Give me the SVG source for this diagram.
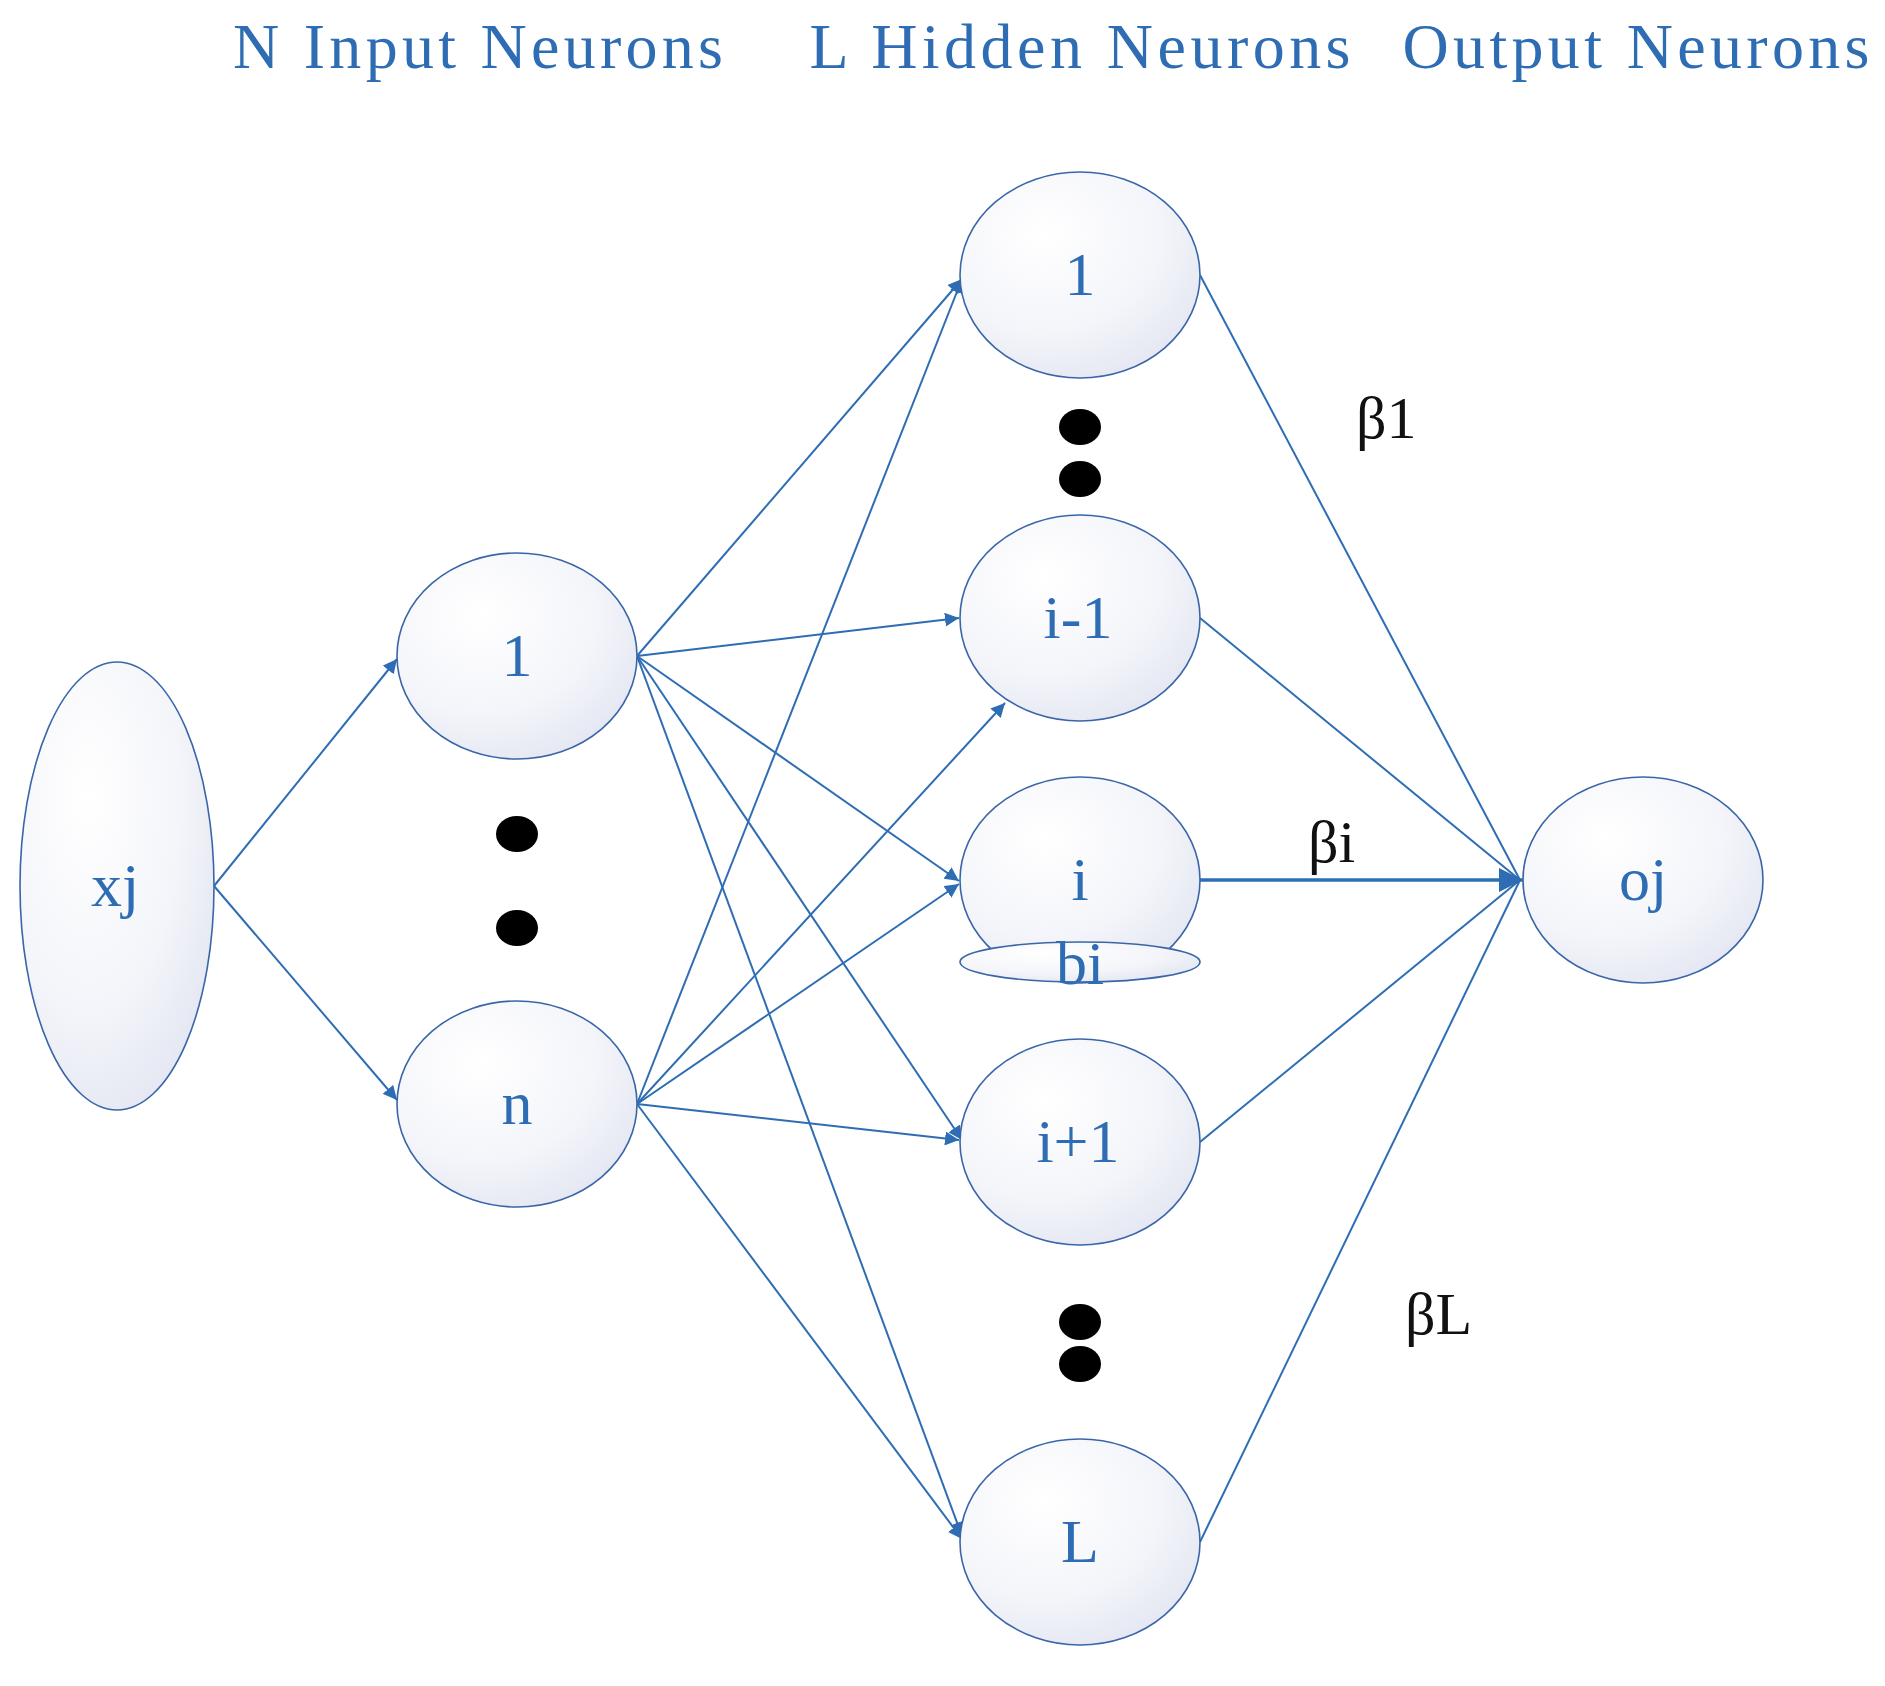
<svg xmlns="http://www.w3.org/2000/svg" width="1885" height="1686" viewBox="0 0 1885 1686">
<style>
.n{fill:url(#g);stroke:#3A66A8;stroke-width:1.6}
.t{font-family:"Liberation Serif",serif;fill:#2E6DB4;text-anchor:middle}
.lb{font-family:"Liberation Serif",serif;fill:#111;font-size:60px}
.c{stroke:#2E6DB4;stroke-width:2;fill:none;marker-end:url(#b)}
.o{stroke:#2E6DB4;stroke-width:2;fill:none}
.d{fill:#000}
</style>
<defs>
<radialGradient id="g" cx="0.35" cy="0.3" r="0.8"><stop offset="0" stop-color="#ffffff"/><stop offset="0.6" stop-color="#F4F5FA"/><stop offset="1" stop-color="#E2E5F1"/></radialGradient>
<marker id="b" viewBox="0 0 10 10" refX="10" refY="5" markerWidth="14" markerHeight="14" orient="auto" markerUnits="userSpaceOnUse"><path d="M0,0L10,5L0,10z" fill="#2E6DB4"/></marker>
<marker id="big" viewBox="0 0 10 10" refX="10" refY="5" markerWidth="24" markerHeight="30" orient="auto" markerUnits="userSpaceOnUse"><path d="M0,0L10,5L0,10z" fill="#2E6DB4"/></marker>
</defs>
<g id="titles" class="t" font-size="64">
<text x="478" y="68" textLength="490" lengthAdjust="spacing">N Input Neurons</text>
<text x="1080" y="68" textLength="541" lengthAdjust="spacing">L Hidden Neurons</text>
<text x="1636" y="68" textLength="467" lengthAdjust="spacing">Output Neurons</text>
</g>
<g id="connectors">
<line class="c" x1="214" y1="886" x2="397" y2="659"/>
<line class="c" x1="214" y1="886" x2="397" y2="1100"/>
<line class="c" x1="637" y1="656" x2="962" y2="279"/>
<line class="c" x1="637" y1="656" x2="959" y2="618"/>
<line class="c" x1="637" y1="656" x2="959" y2="881"/>
<line class="c" x1="637" y1="656" x2="962" y2="1140"/>
<line class="c" x1="637" y1="656" x2="962" y2="1536"/>
<line class="c" x1="637" y1="1104" x2="962" y2="279"/>
<line class="c" x1="637" y1="1104" x2="1005" y2="703"/>
<line class="c" x1="637" y1="1104" x2="959" y2="884"/>
<line class="c" x1="637" y1="1104" x2="959" y2="1140"/>
<line class="c" x1="637" y1="1104" x2="962" y2="1539"/>
<line class="o" x1="1200" y1="275" x2="1520" y2="880"/>
<line class="o" x1="1200" y1="618" x2="1520" y2="880"/>
<line class="c" x1="1200" y1="880" x2="1523" y2="880" style="stroke-width:3.5;marker-end:url(#big)"/>
<line class="o" x1="1200" y1="1142" x2="1520" y2="880"/>
<line class="o" x1="1200" y1="1542" x2="1520" y2="880"/>
</g>
<g id="xj"><ellipse class="n" cx="117" cy="886" rx="97" ry="224"/><text class="t" x="115" y="906" font-size="62">xj</text></g>
<g id="in1"><ellipse class="n" cx="517" cy="656" rx="120" ry="103"/><text class="t" x="517" y="676" font-size="62">1</text></g>
<g id="inn"><ellipse class="n" cx="517" cy="1104" rx="120" ry="103"/><text class="t" x="517" y="1124" font-size="62">n</text></g>
<g id="dots1"><ellipse class="d" cx="517" cy="834" rx="21" ry="18"/><ellipse class="d" cx="517" cy="928" rx="21" ry="18"/></g>
<g id="h1"><ellipse class="n" cx="1080" cy="275" rx="120" ry="103"/><text class="t" x="1080" y="295" font-size="62">1</text></g>
<g id="hdots1"><ellipse class="d" cx="1080" cy="427" rx="21" ry="18"/><ellipse class="d" cx="1080" cy="479" rx="21" ry="18"/></g>
<g id="him1"><ellipse class="n" cx="1080" cy="618" rx="120" ry="103"/><text class="t" x="1078" y="638" font-size="62">i-1</text></g>
<g id="hi"><ellipse class="n" cx="1080" cy="880" rx="120" ry="103"/><text class="t" x="1080" y="900" font-size="62">i</text></g>
<g id="bi"><ellipse class="n" cx="1080" cy="962" rx="120" ry="20"/><text class="t" x="1080" y="984" font-size="62">bi</text></g>
<g id="hip1"><ellipse class="n" cx="1080" cy="1142" rx="120" ry="103"/><text class="t" x="1078" y="1162" font-size="62">i+1</text></g>
<g id="hdots2"><ellipse class="d" cx="1080" cy="1322" rx="21" ry="18"/><ellipse class="d" cx="1080" cy="1364" rx="21" ry="18"/></g>
<g id="hL"><ellipse class="n" cx="1080" cy="1542" rx="120" ry="103"/><text class="t" x="1080" y="1562" font-size="62">L</text></g>
<g id="oj"><ellipse class="n" cx="1643" cy="880" rx="120" ry="103"/><text class="t" x="1643" y="900" font-size="62">oj</text></g>
<g id="labels">
<text class="lb" x="1356" y="438">β1</text>
<text class="lb" x="1308" y="862">βi</text>
<text class="lb" x="1405" y="1334">βL</text>
</g>
</svg>
